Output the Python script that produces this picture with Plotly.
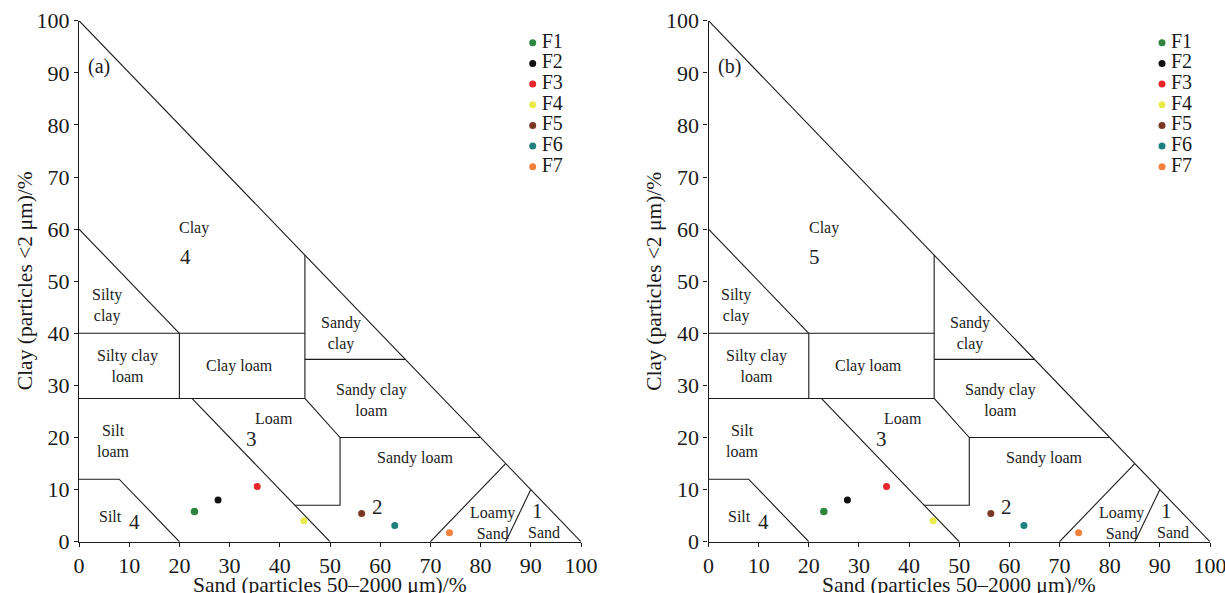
import plotly.graph_objects as go

# ---------------- data ----------------
samples = ["F1", "F2", "F3", "F4", "F5", "F6", "F7"]
sand = [23.0, 27.7, 35.5, 44.8, 56.3, 62.9, 73.8]
clay = [5.8, 8.0, 10.6, 4.0, 5.4, 3.1, 1.7]
colors = ["#2e8540", "#111111", "#e8262b", "#eaea4a", "#7a3822", "#1f8080", "#f5803e"]

# texture-class boundaries (sand %, clay %)
boundaries = [
    [(0, 100), (100, 0)],
    [(0, 60), (20, 40)],
    [(0, 40), (45, 40)],
    [(20, 40), (20, 27.5)],
    [(0, 27.5), (45, 27.5)],
    [(45, 27.5), (45, 55)],
    [(45, 35), (65, 35)],
    [(45, 27.5), (52, 20), (80, 20)],
    [(52, 20), (52, 7), (43, 7)],
    [(22.5, 27.5), (50, 0)],
    [(0, 12), (8, 12), (20, 0)],
    [(70, 0), (85, 15)],
    [(85, 0), (90, 10)],
]

x_ticks = list(range(0, 101, 10))
y_ticks = list(range(0, 101, 10))

class_labels = [
    ("Clay", 23.0, 60.2), ("Silty<br>clay", 5.5, 45.4), ("Silty clay<br>loam", 9.6, 33.7),
    ("Clay loam", 32.0, 33.7), ("Sandy<br>clay", 52.2, 40.0), ("Sandy clay<br>loam", 58.2, 27.2),
    ("Loam", 38.8, 23.6), ("Silt<br>loam", 6.8, 19.3), ("Sandy loam", 67.0, 16.0),
    ("Silt", 6.2, 4.9), ("Loamy<br>Sand", 82.4, 3.6), ("Sand", 92.6, 1.7),
]
zone_numbers_a = [("4", 21.2, 54.6), ("3", 34.4, 19.7), ("4", 11.0, 3.8), ("2", 59.4, 6.7), ("1", 91.4, 5.8)]
zone_numbers_b = [("5", 21.2, 54.6), ("3", 34.4, 19.7), ("4", 11.0, 3.8), ("2", 59.4, 6.7), ("1", 91.4, 5.8)]
panel_tags = ["(a)", "(b)"]

# ---------------- layout constants ----------------
W, H = 1225, 593
FONT = "Liberation Serif, Times New Roman, serif"
INK = "#1a1a1a"
px_x = lambda p: p / W
px_y = lambda p: 1 - p / H

plot_x_domains = [[px_x(79), px_x(581)], [px_x(708.5), px_x(1210)]]
plot_y_domain = [px_y(541.7), px_y(20.7)]
legend_cx = [532.7, 1162.0]
leg_top, leg_step = 42.7, 20.67

fig = go.Figure()

for k in range(2):
    xa = "x" if k == 0 else "x2"
    ya = "y" if k == 0 else "y2"
    bx, by = [], []
    for seg in boundaries:
        for (a, b) in seg:
            bx.append(a)
            by.append(b)
        bx.append(None)
        by.append(None)
    fig.add_trace(go.Scatter(x=bx, y=by, mode="lines", line=dict(color=INK, width=1.1),
                             xaxis=xa, yaxis=ya, showlegend=False, hoverinfo="skip"))
    for i, s in enumerate(samples):
        fig.add_trace(go.Scatter(x=[sand[i]], y=[clay[i]], mode="markers", name=s,
                                 marker=dict(color=colors[i], size=7.5 if i == 0 else 7),
                                 xaxis=xa, yaxis=ya, showlegend=False, cliponaxis=False))
    # custom legend (one row per sample)
    lxa = "x3" if k == 0 else "x4"
    lya = "y3" if k == 0 else "y4"
    rows = list(range(len(samples)))
    fig.add_trace(go.Scatter(x=[0] * len(samples), y=rows, mode="markers",
                             marker=dict(color=colors, size=7), cliponaxis=False,
                             xaxis=lxa, yaxis=lya, showlegend=False, hoverinfo="skip"))
    fig.add_trace(go.Scatter(x=[0.9] * len(samples), y=rows, mode="text",
                             text=samples, textposition="middle right",
                             textfont=dict(family=FONT, size=20, color=INK), cliponaxis=False,
                             xaxis=lxa, yaxis=lya, showlegend=False, hoverinfo="skip"))

axis_common = dict(range=[0, 100], showgrid=False, zeroline=False, showline=True, linecolor=INK,
                   linewidth=1.1, ticks="outside", ticklen=4, tickcolor=INK, automargin=False,
                   ticklabeloverflow="allow",
                   tickfont=dict(family=FONT, size=22, color=INK), fixedrange=True)

xtitle = "Sand (particles 50\u20132000 \u03bcm)/%"
ytitle = "Clay (particles <2 \u03bcm)/%"
tfont = dict(family=FONT, size=21.5, color=INK)

fig.update_layout(
    width=W, height=H, margin=dict(l=0, r=0, t=0, b=0, autoexpand=False),
    plot_bgcolor="white", paper_bgcolor="white",
    xaxis=dict(axis_common, domain=plot_x_domains[0], anchor="y", tickvals=x_ticks),
    yaxis=dict(axis_common, domain=plot_y_domain, anchor="x", tickvals=y_ticks),
    xaxis2=dict(axis_common, domain=plot_x_domains[1], anchor="y2", tickvals=x_ticks),
    yaxis2=dict(axis_common, domain=plot_y_domain, anchor="x2", tickvals=y_ticks),
)

for k, (lx, ly) in enumerate([("xaxis3", "yaxis3"), ("xaxis4", "yaxis4")]):
    cx = legend_cx[k]
    fig.layout[lx] = dict(domain=[px_x(cx - 10), px_x(cx + 10)], range=[-1, 1], visible=False,
                          anchor="y3" if k == 0 else "y4", fixedrange=True)
    fig.layout[ly] = dict(domain=[px_y(leg_top + leg_step * 6.5), px_y(leg_top - leg_step * 0.5)],
                          range=[6.5, -0.5], visible=False,
                          anchor="x3" if k == 0 else "x4", fixedrange=True)

anns = []
for k in range(2):
    xr = "x" if k == 0 else "x2"
    yr = "y" if k == 0 else "y2"
    d = plot_x_domains[k]
    # axis titles
    anns.append(dict(text=xtitle, x=(d[0] + d[1]) / 2, y=px_y(585), xref="paper", yref="paper",
                     showarrow=False, font=tfont, xanchor="center", yanchor="middle"))
    anns.append(dict(text=ytitle, x=d[0] - px_x(79 - 25), y=(plot_y_domain[0] + plot_y_domain[1]) / 2,
                     xref="paper", yref="paper", textangle=-90,
                     showarrow=False, font=tfont, xanchor="center", yanchor="middle"))
    for (t, x, y) in class_labels:
        anns.append(dict(text=t, x=x, y=y, xref=xr, yref=yr, showarrow=False,
                         font=dict(family=FONT, size=16, color="#222222"), xanchor="center", yanchor="middle"))
    for (t, x, y) in (zone_numbers_a if k == 0 else zone_numbers_b):
        anns.append(dict(text=t, x=x, y=y, xref=xr, yref=yr, showarrow=False,
                         font=dict(family=FONT, size=21, color="#222222"), xanchor="center", yanchor="middle"))
    anns.append(dict(text=panel_tags[k], x=1.4, y=91.3, xref=xr, yref=yr, showarrow=False,
                     font=dict(family=FONT, size=20, color=INK), xanchor="left", yanchor="middle"))
fig.update_layout(annotations=anns)

fig.write_html("out.html")
